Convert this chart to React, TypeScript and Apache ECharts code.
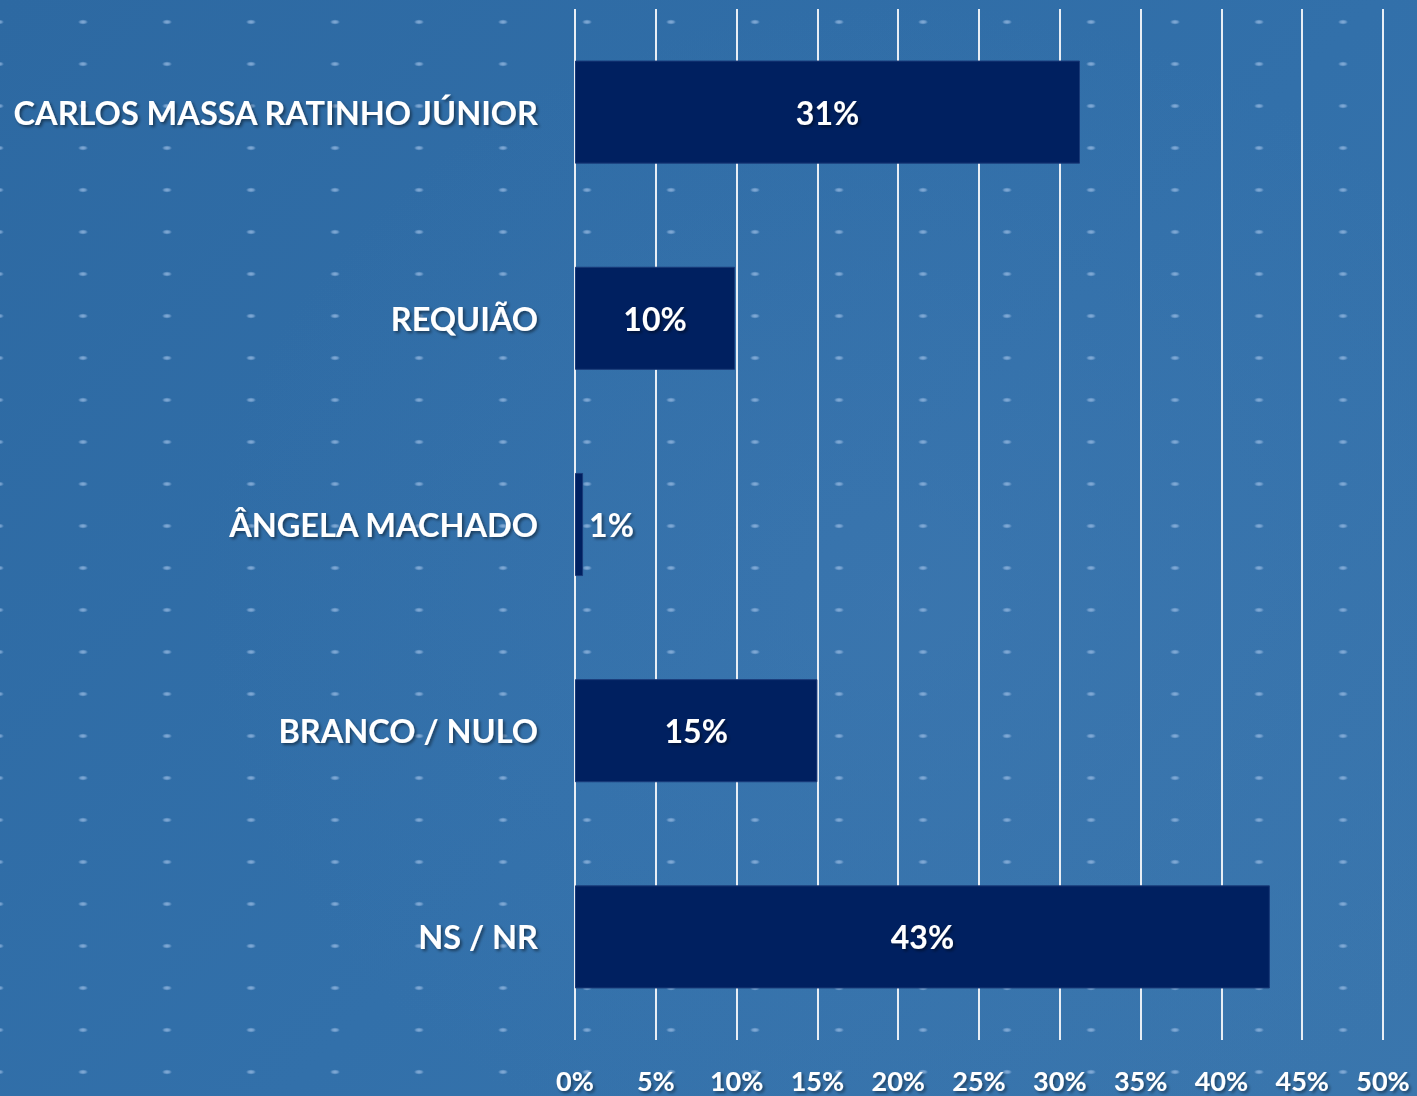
import React, { useEffect, useRef } from "react";
import * as echarts from "echarts";

const categories = [
  "CARLOS MASSA RATINHO JÚNIOR",
  "REQUIÃO",
  "ÂNGELA MACHADO",
  "BRANCO / NULO",
  "NS / NR",
];
const values = [31.25, 9.9, 0.5, 15, 43];
const valueLabels = ["31%", "10%", "1%", "15%", "43%"];
const xTicks = { min: 0, max: 50, interval: 5 };

const FONT = "Lato, 'Open Sans', sans-serif";
const shadow = {
  textShadowColor: "rgba(0,0,0,0.45)",
  textShadowBlur: 3,
  textShadowOffsetX: 2,
  textShadowOffsetY: 2,
};

export default function App() {
  const ref = useRef<HTMLDivElement>(null);
  useEffect(() => {
    if (!ref.current) return;
    const chart = echarts.init(ref.current, undefined, { renderer: "svg" });
    chart.setOption({
      animation: false,
      backgroundColor: "transparent",
      grid: { left: 575, right: 34, top: 9, bottom: 56, containLabel: false },
      xAxis: {
        type: "value",
        min: xTicks.min,
        max: xTicks.max,
        interval: xTicks.interval,
        axisLine: { show: false },
        axisTick: { show: false },
        splitLine: { show: true, lineStyle: { color: "#e8eef5", width: 2 } },
        axisLabel: {
          formatter: "{value}%",
          color: "#ffffff",
          fontFamily: FONT,
          fontWeight: "bold",
          fontSize: 27,
          lineHeight: 28,
          margin: 26,
          ...shadow,
        },
      },
      yAxis: {
        type: "category",
        inverse: true,
        data: categories,
        axisLine: { show: false },
        axisTick: { show: false },
        splitLine: { show: false },
        axisLabel: {
          color: "#ffffff",
          fontFamily: FONT,
          fontWeight: "bold",
          fontSize: 32.5,
          margin: 37,
          ...shadow,
        },
      },
      series: [
        {
          type: "bar",
          barWidth: "50%",
          itemStyle: { color: "#002060", borderColor: "#1a3a78", borderWidth: 1 },
          data: values.map((v, i) => ({
            value: v,
            label: {
              show: true,
              position: v < 3 ? "right" : "inside",
              distance: 6,
              formatter: valueLabels[i],
              color: "#ffffff",
              fontFamily: FONT,
              fontWeight: "bold",
              fontSize: 32,
              ...shadow,
            },
          })),
        },
      ],
    });
    return () => chart.dispose();
  }, []);

  const dotBg =
    "radial-gradient(ellipse 5px 2.6px at 42px 21px, rgba(150,185,225,0.85) 0%, rgba(150,185,225,0.6) 50%, rgba(150,185,225,0) 100%)";
  const baseBg =
    "radial-gradient(ellipse 700px 600px at 900px 600px, rgba(70,125,180,0.35), rgba(70,125,180,0) 100%), linear-gradient(135deg, #2d69a2 0%, #3270aa 55%, #3a76ad 100%)";

  return (
    <div
      style={{
        position: "fixed",
        left: 0,
        top: 0,
        width: 1417,
        height: 1096,
        background: `${dotBg}, ${baseBg}`,
        backgroundSize: "84px 42px, auto, auto",
        backgroundPosition: "41px 1px, 0 0, 0 0",
        backgroundRepeat: "repeat, no-repeat, no-repeat",
      }}
    >
      <div ref={ref} style={{ width: 1417, height: 1096 }} />
    </div>
  );
}
